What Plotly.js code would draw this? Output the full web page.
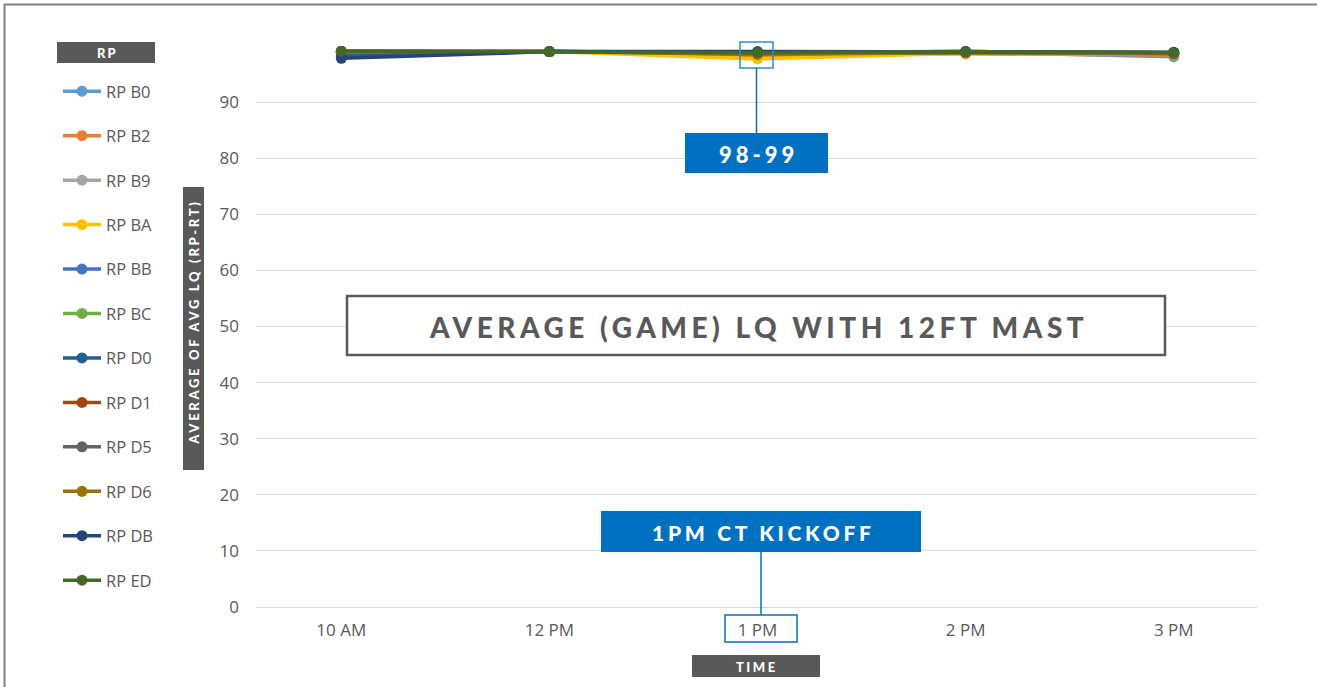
<!DOCTYPE html>
<html>
<head>
<meta charset="utf-8">
<script src="https://cdn.plot.ly/plotly-3.0.1.min.js"></script>
<style>
html,body{margin:0;padding:0;background:#fff;overflow:hidden;}
#chart{width:1317px;height:687px;}
g.annotation text{letter-spacing:2px;}
g.annotation[data-index="1"] text{letter-spacing:4px;}
g.annotation[data-index="2"] text{letter-spacing:4.5px;}
g.annotation[data-index="3"] text{letter-spacing:3.7px;}
g.annotation[data-index="4"] text{letter-spacing:2.5px;}
g.annotation[data-index="5"] text{letter-spacing:2.7px;}
</style>
</head>
<body>
<div id="chart"></div>
<script>
// ---- data ----
const times = ['10 AM', '12 PM', '1 PM', '2 PM', '3 PM'];
const seriesNames = ['RP B0','RP B2','RP B9','RP BA','RP BB','RP BC','RP D0','RP D1','RP D5','RP D6','RP DB','RP ED'];
const rpB0 = [98.6, 99.0, 98.6, 98.9, 98.1];
const rpB2 = [99.0, 99.0, 98.3, 98.6, 98.4];
const rpB9 = [99.0, 99.0, 98.7, 98.9, 98.7];
const rpBA = [99.0, 99.0, 97.7, 98.7, 98.6];
const rpBB = [98.9, 99.0, 98.8, 99.0, 98.8];
const rpBC = [99.0, 99.0, 98.7, 98.9, 98.8];
const rpD0 = [98.2, 99.0, 98.9, 99.0, 98.8];
const rpD1 = [99.0, 99.0, 98.6, 98.8, 98.6];
const rpD5 = [99.0, 99.0, 98.8, 98.9, 98.8];
const rpD6 = [99.0, 99.0, 98.5, 98.8, 98.7];
const rpDB = [97.8, 99.0, 99.0, 99.0, 98.9];
const rpED = [99.1, 99.0, 98.8, 99.0, 98.8];
const seriesValues = [rpB0, rpB2, rpB9, rpBA, rpBB, rpBC, rpD0, rpD1, rpD5, rpD6, rpDB, rpED];
const yTicks = [0, 10, 20, 30, 40, 50, 60, 70, 80, 90];

// ---- styles ----
const colors = ['#5B9BD5','#ED7D31','#A5A5A5','#FFC000','#4472C4','#70AD47','#255E91','#9E480E','#636363','#997300','#264478','#43682B'];
const W = 1317, H = 687;
const mL = 256, mR = 60, mT = 46, mB = 80;
const pw = W - mL - mR, ph = H - mT - mB;
const X = px => (px - mL) / pw;
const Y = py => 1 - (py - mT) / ph;

const traces = seriesNames.map((name, i) => ({
  type: 'scatter',
  mode: 'lines+markers',
  name: name,
  legendgroup: name,
  x: times,
  y: seriesValues[i],
  line: {color: colors[i], width: 3.5},
  marker: {color: colors[i], size: 11},
  hoverinfo: 'name+y'
}));

const blue = '#0070C0';
const dark = '#595959';
function rectPx(x0, y0, x1, y1, fill, line, lw) {
  return {type: 'rect', xref: 'paper', yref: 'paper', x0: X(x0), x1: X(x1), y0: Y(y1), y1: Y(y0),
    fillcolor: fill, line: {color: line, width: lw}, layer: 'above'};
}
function linePx(x0, y0, x1, y1, color, lw) {
  return {type: 'line', xref: 'paper', yref: 'paper', x0: X(x0), x1: X(x1), y0: Y(y0), y1: Y(y1),
    line: {color: color, width: lw}, layer: 'above'};
}

const shapes = [
  // outer frame (top and left edges)
  linePx(4, 4.5, 1317, 4.5, '#808080', 2),
  linePx(4.5, 4, 4.5, 687, '#808080', 2),
  // legend title box
  rectPx(57, 42, 155, 63, dark, dark, 0),
  // y title box
  rectPx(183, 187, 204, 470, dark, dark, 0),
  // x title box
  rectPx(692, 655, 820, 677, dark, dark, 0),
  // 98-99 callout
  rectPx(740, 42, 773, 68, 'rgba(0,0,0,0)', '#2E8BD0', 1.5),
  linePx(756.5, 68, 756.5, 133, blue, 1.5),
  rectPx(685, 133, 828, 173, blue, blue, 0),
  // chart title box
  rectPx(347, 296, 1165, 355, '#ffffff', dark, 2.5),
  // kickoff callout
  rectPx(601, 511, 921, 552, blue, blue, 0),
  linePx(761, 552, 761, 615, blue, 1.5),
  rectPx(725, 615, 797, 642, 'rgba(0,0,0,0)', blue, 1.5)
];

const boldFont = (size, color) => ({family: 'Lato, "Open Sans", sans-serif', size: size, color: color, weight: 900});
function ann(text, cx, cy, font, angle) {
  return {text: text, xref: 'paper', yref: 'paper', x: X(cx), y: Y(cy), xanchor: 'center', yanchor: 'middle',
    showarrow: false, font: font, textangle: angle || 0};
}
const annotations = [
  ann('RP', 107, 53, boldFont(13, '#ffffff')),
  ann('98-99', 758, 154, boldFont(22, '#ffffff')),
  ann('AVERAGE (GAME) LQ WITH 12FT MAST', 758, 327, boldFont(28, dark)),
  ann('1PM CT KICKOFF', 763, 532, boldFont(21, '#ffffff')),
  ann('TIME', 757, 667, boldFont(13, '#ffffff')),
  ann('AVERAGE OF AVG LQ (RP-RT)', 194, 322, boldFont(13, '#ffffff'), -90)
];

const layout = {
  width: W, height: H,
  margin: {l: mL, r: mR, t: mT, b: mB, pad: 0},
  paper_bgcolor: '#ffffff', plot_bgcolor: '#ffffff',
  font: {family: '"Open Sans", sans-serif', color: dark, size: 16.5},
  showlegend: true,
  legend: {
    x: X(58), xanchor: 'left', y: Y(74), yanchor: 'top',
    traceorder: 'grouped', tracegroupgap: 20, itemwidth: 38,
    font: {family: '"Open Sans", sans-serif', size: 16.5, color: dark},
    bgcolor: 'rgba(0,0,0,0)', itemclick: false, itemdoubleclick: false
  },
  xaxis: {
    type: 'category', range: [-0.41, 4.40], showgrid: false, zeroline: false, showline: false,
    ticks: '', ticklabelstandoff: 11, tickfont: {size: 17, color: dark}, fixedrange: true
  },
  yaxis: {
    range: [0, 100], tickvals: yTicks, ticktext: yTicks.map(String), showgrid: true, gridcolor: '#d9d9d9', gridwidth: 1,
    zeroline: true, zerolinecolor: '#d9d9d9', zerolinewidth: 1, showline: false, ticks: '',
    ticklabelstandoff: 16, tickfont: {size: 17, color: dark}, fixedrange: true
  },
  shapes: shapes,
  annotations: annotations
};

Plotly.newPlot('chart', traces, layout, {displayModeBar: false, responsive: false});
</script>
</body>
</html>
